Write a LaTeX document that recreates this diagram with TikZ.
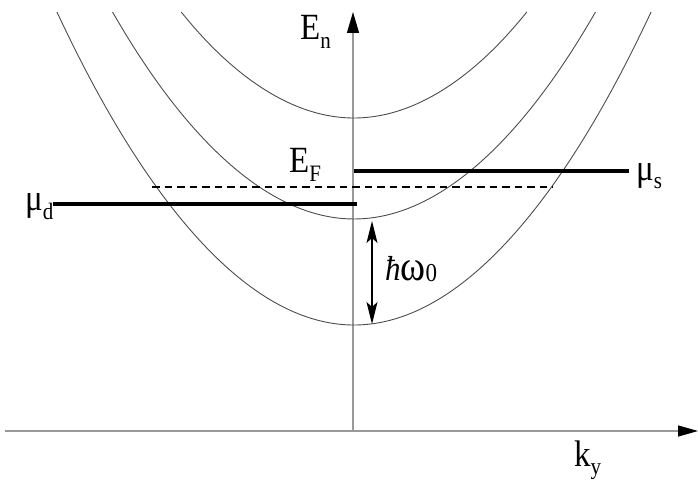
\documentclass[tikz,border=0pt]{standalone}
\usepackage{fontspec}
\setmainfont{Liberation Serif}
\usetikzlibrary{arrows.meta}
\newcommand\mylab[2]{\scalebox{1}[1.12]{\fontsize{33}{33}\selectfont #1\raisebox{-7.5pt}{\fontsize{21}{21}\selectfont #2}}}
\begin{document}
\begin{tikzpicture}[x=1pt,y=-1pt,
  axisline/.style={draw=black!40, line width=1.3pt},
  band/.style={draw=black!70, line width=0.9pt},
  level/.style={draw=black, line width=4.2pt},
  fermi/.style={draw=black, line width=2.2pt, dash pattern=on 7.5pt off 5pt},
  gaparrow/.style={draw=black, line width=1.6pt, {Stealth[length=22pt,width=11pt,inset=5pt]}-{Stealth[length=22pt,width=11pt,inset=5pt]}},
  lab/.style={inner sep=0pt, anchor=base west}]
\useasboundingbox (0,0) rectangle (698,481);
% axes
\coordinate (origin) at (353,431);
\coordinate (ytip) at (353,12);
\coordinate (xstart) at (5,431);
\coordinate (xtip) at (698,431);
\draw[axisline, -{Triangle[length=21pt,width=12pt,color=black]}] (origin) -- (ytip);
\draw[axisline, -{Triangle[length=20pt,width=11pt,color=black]}] (xstart) -- (xtip);
% bands
\coordinate (b1l) at (56.9,12);  \coordinate (b1) at (354,325); \coordinate (b1r) at (651.1,12);
\coordinate (b2l) at (112.5,12); \coordinate (b2) at (354,219); \coordinate (b2r) at (595.5,12);
\coordinate (b3l) at (181.2,12); \coordinate (b3) at (354,118); \coordinate (b3r) at (526.8,12);
\draw[band] (b1l) parabola bend (b1) (b1r);
\draw[band] (b2l) parabola bend (b2) (b2r);
\draw[band] (b3l) parabola bend (b3) (b3r);
% levels
\coordinate (msl) at (354,171); \coordinate (msr) at (629,171);
\coordinate (mdl) at (53,204);  \coordinate (mdr) at (357,204);
\coordinate (efl) at (152,187); \coordinate (efr) at (553,187);
\draw[level] (msl) -- (msr);
\draw[level] (mdl) -- (mdr);
\draw[fermi] (efl) -- (efr);
% gap arrow
\coordinate (gtop) at (372,221);
\coordinate (gbot) at (372,324);
\draw[gaparrow] (gtop) -- (gbot);
% labels
\node[lab] (En) at (300,40) {\mylab{E}{n}};
\node[lab] (EF) at (289,173) {\mylab{E}{F}};
\node[lab] (mus) at (636,180) {\mylab{μ}{s}};
\node[lab] (mud) at (25,211) {\mylab{μ}{d}};
\node[lab] (ky) at (574,466) {\mylab{k}{y}};
\node[lab] (hw) at (385,280) {\scalebox{1}[1.12]{\fontsize{31}{31}\selectfont\textit{ħ}\fontsize{38}{38}\selectfont ω\raisebox{-1pt}{\fontsize{23}{23}\selectfont 0}}};
\end{tikzpicture}
\end{document}
